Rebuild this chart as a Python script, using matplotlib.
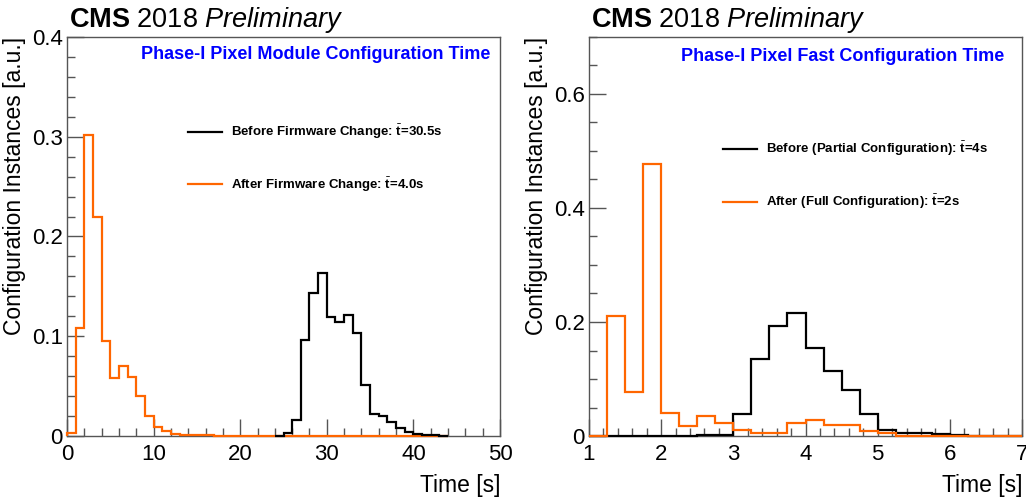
import numpy as np
import matplotlib
matplotlib.use("Agg")
import matplotlib.pyplot as plt
from matplotlib.ticker import MultipleLocator, FuncFormatter
from matplotlib.lines import Line2D

plt.rcParams['font.family'] = ['Liberation Sans', 'DejaVu Sans']
plt.rcParams['mathtext.fontset'] = 'custom'
plt.rcParams['mathtext.rm'] = 'Liberation Sans'
plt.rcParams['mathtext.bf'] = 'Liberation Sans:bold'
plt.rcParams['mathtext.it'] = 'Liberation Sans:italic'

# Left: module configuration time, 1 s bins
left_edges = np.arange(0, 45, 1)
left_after = [0.003, 0.108, 0.302, 0.220, 0.0956, 0.0585, 0.070, 0.059, 0.040, 0.020,
              0.0093, 0.0047, 0.002, 0.0013, 0.0013, 0.0007, 0.0007, 0.0005, 0.0005, 0.0005,
              0.0005, 0.0005, 0, 0, 0, 0, 0, 0, 0, 0,
              0, 0, 0, 0, 0, 0, 0, 0, 0, 0,
              0, 0, 0, 0]
left_before_edges = np.arange(24, 45, 1)
left_before = [0.0003, 0.003, 0.0164, 0.0967, 0.143, 0.1635, 0.119, 0.114, 0.121, 0.103,
               0.051, 0.0224, 0.020, 0.014, 0.0077, 0.0037, 0.0023, 0.0013, 0.0007, 0.0003]

# Right: fast configuration time, 0.25 s bins
right_edges = np.arange(1, 7.01, 0.25)
right_after = [0, 0.211, 0.078, 0.478, 0.040, 0.017, 0.035, 0.022, 0.0099, 0.0058,
               0.0058, 0.0227, 0.0286, 0.019, 0.020, 0.008, 0.0047, 0.0007, 0.0005, 0.0003,
               0.0002, 0.0001, 0, 0]
right_before = [0, 0, 0, 0, 0, 0.0005, 0.001, 0.001, 0.039, 0.1347,
                0.193, 0.2157, 0.155, 0.114, 0.081, 0.039, 0.0105, 0.0058, 0.0052, 0.0035,
                0.001, 0.0005, 0.0003, 0.0002]

titles = ["Phase-I Pixel Module Configuration Time", "Phase-I Pixel Fast Configuration Time"]
labels_before = [r"Before Firmware Change: $\bar{\mathbf{t}}$=30.5s",
                 r"Before (Partial Configuration): $\bar{\mathbf{t}}$=4s"]
labels_after = [r"After Firmware Change: $\bar{\mathbf{t}}$=4.0s",
                r"After (Full Configuration): $\bar{\mathbf{t}}$=2s"]

orange = '#ff6600'
frame = '#555555'

fig = plt.figure(figsize=(10.26, 4.97), dpi=100)
ax1 = fig.add_axes([67 / 1026, 61 / 497, 433 / 1026, 399 / 497])
ax2 = fig.add_axes([589 / 1026, 61 / 497, 433 / 1026, 399 / 497])

# histograms (baseline drawn unclipped so the zero bins stay visible like ROOT)
ax1.stairs(left_after, left_edges, color=orange, lw=1.6, zorder=3, clip_on=False)
ax1.stairs(left_before, left_before_edges, color='black', lw=1.6, zorder=3, clip_on=False)
ax2.stairs(right_before, right_edges, color='black', lw=1.6, zorder=3, clip_on=False)
ax2.stairs(right_after, right_edges, color=orange, lw=1.6, zorder=3, clip_on=False)

ax1.set_xlim(0, 50)
ax1.set_ylim(0, 0.4)
ax1.xaxis.set_major_locator(MultipleLocator(10))
ax1.xaxis.set_minor_locator(MultipleLocator(2))
ax1.yaxis.set_major_locator(MultipleLocator(0.1))
ax1.yaxis.set_minor_locator(MultipleLocator(0.02))

ax2.set_xlim(1, 7)
ax2.set_ylim(0, 0.7)
ax2.xaxis.set_major_locator(MultipleLocator(1))
ax2.xaxis.set_minor_locator(MultipleLocator(0.2))
ax2.yaxis.set_major_locator(MultipleLocator(0.2))
ax2.yaxis.set_minor_locator(MultipleLocator(0.05))

fmt = FuncFormatter(lambda v, p: '0' if abs(v) < 1e-9 else '%g' % v)

for i, ax in enumerate([ax1, ax2]):
    for s in ax.spines.values():
        s.set_color(frame)
        s.set_linewidth(1.0)
    ax.tick_params(which='both', direction='in', top=False, right=False, color=frame)
    ax.tick_params(which='major', length=12, width=1, labelsize=16)
    ax.tick_params(which='minor', length=6, width=1)
    ax.tick_params(axis='x', pad=6)
    ax.tick_params(axis='y', pad=3)
    ax.xaxis.set_major_formatter(fmt)
    ax.yaxis.set_major_formatter(fmt)

    ax.set_xlabel("Time [s]", fontsize=16.5, loc='right')
    ax.xaxis.set_label_coords(1.0, -0.095)
    ax.xaxis.label.set_va('top')
    ax.set_ylabel("Configuration Instances [a.u.]", fontsize=16.5, loc='top')
    ax.yaxis.set_label_coords(-0.094, 1.0)

    ax.text(0.004, 1.025, r"$\mathbf{CMS}$ 2018 $\mathit{Preliminary}$", transform=ax.transAxes,
            fontsize=19.5, ha='left', va='baseline')

    ax.text([0.977, 0.958][i], [0.955, 0.951][i], titles[i], transform=ax.transAxes,
            fontsize=13, fontweight='bold', color='#0000ff', ha='right', va='center')

    handles = [Line2D([], [], color='black', lw=1.6), Line2D([], [], color=orange, lw=1.6)]
    leg = ax.legend(handles, [labels_before[i], labels_after[i]], loc='upper left',
                    bbox_to_anchor=([0.279, 0.309][i], [0.785, 0.742][i]),
                    frameon=False, borderpad=0, borderaxespad=0,
                    handlelength=2.6, handletextpad=0.7, labelspacing=2.6,
                    prop={'weight': 'bold', 'size': 9.5})

fig.savefig("out.png", dpi=100)
